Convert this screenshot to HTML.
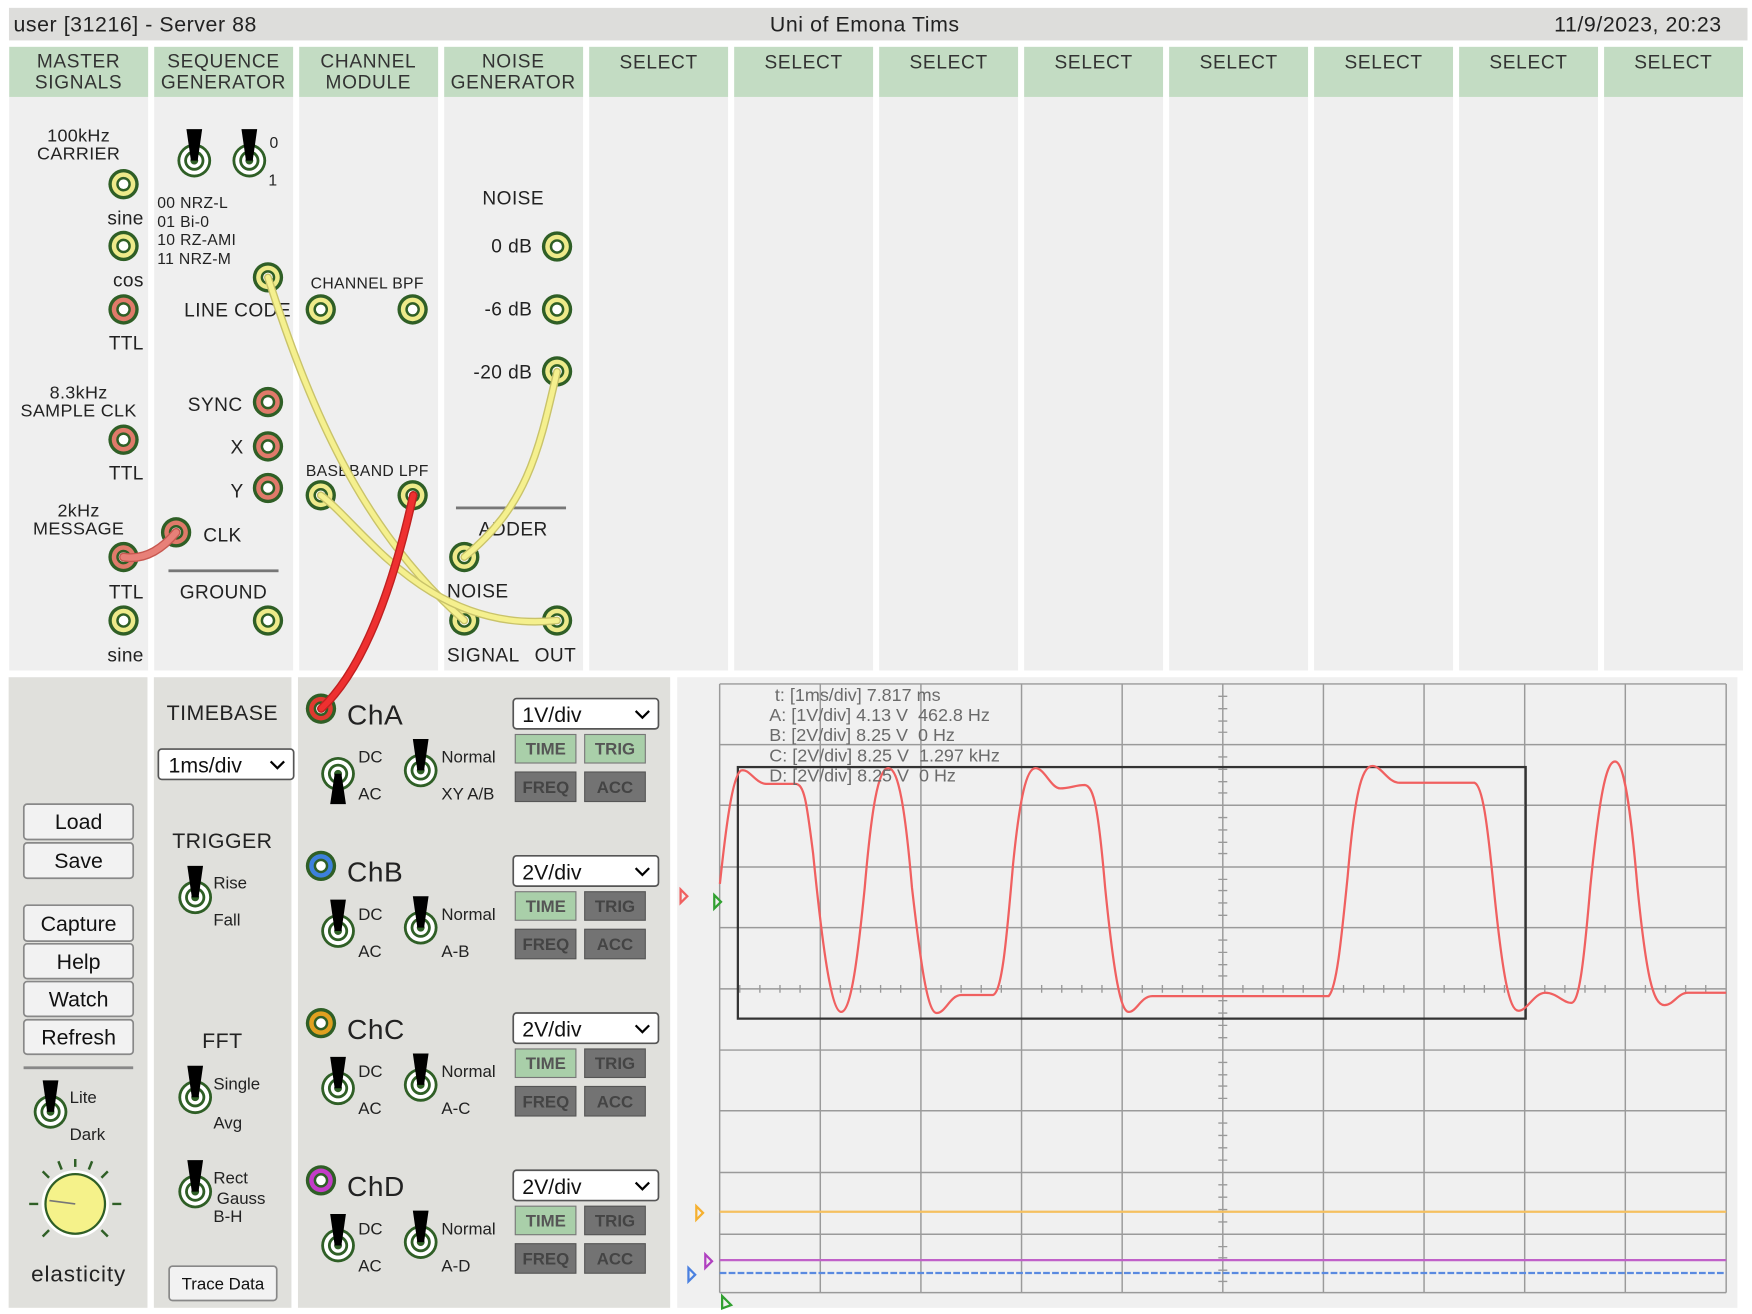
<!DOCTYPE html>
<html><head><meta charset="utf-8"><style>
html,body{margin:0;padding:0;background:#fff;}
svg{display:block;font-family:"Liberation Sans",sans-serif;}
</style></head><body>
<svg width="1752" height="1314" viewBox="0 0 1560 1170" xmlns="http://www.w3.org/2000/svg">
<defs>
<g id="jy"><circle r="13.5" fill="#2f5f26"/><circle r="10.5" fill="#eeea8a"/><circle r="6.5" fill="#2f5f26"/><circle r="4.3" fill="#fff"/></g>
<g id="jr"><circle r="13.5" fill="#2f5f26"/><circle r="10.5" fill="#e07a6a"/><circle r="6.5" fill="#2f5f26"/><circle r="4.3" fill="#fff"/></g>
<g id="tgr"><circle r="15" fill="#2f5f26"/><circle r="12.5" fill="#fff"/><circle r="9" fill="#2f5f26"/><circle r="6.5" fill="#fff"/><circle r="3.5" fill="#2f5f26"/></g>
<g id="tu"><use href="#tgr"/><polygon points="-7,-28 7,-28 3,0 -3,0" fill="#000"/></g>
<g id="td"><use href="#tgr"/><polygon points="-7,27 7,27 3,0 -3,0" fill="#000"/></g>
<path id="chev" d="M0,0 l6,6 l6,-6" fill="none" stroke="#000" stroke-width="2"/>
</defs>

<!-- title bar -->
<rect x="8" y="7" width="1548" height="29" fill="#dddddb"/>
<text x="12" y="22" font-size="19" dominant-baseline="central" fill="#222" letter-spacing="0.5">user [31216] - Server 88</text>
<text x="770" y="22" font-size="19" text-anchor="middle" dominant-baseline="central" fill="#222" letter-spacing="0.5">Uni of Emona Tims</text>
<text x="1533" y="22" font-size="19" text-anchor="end" dominant-baseline="central" fill="#222" letter-spacing="0.5">11/9/2023, 20:23</text>

<!-- module columns -->
<g fill="#efefef">
<rect x="8.2" y="86" width="123.7" height="511"/><rect x="137.3" y="86" width="123.7" height="511"/>
<rect x="266.4" y="86" width="123.7" height="511"/><rect x="395.5" y="86" width="123.7" height="511"/>
<rect x="524.6" y="86" width="123.7" height="511"/><rect x="653.7" y="86" width="123.7" height="511"/>
<rect x="782.8" y="86" width="123.7" height="511"/><rect x="911.9" y="86" width="123.7" height="511"/>
<rect x="1041" y="86" width="123.7" height="511"/><rect x="1170.1" y="86" width="123.7" height="511"/>
<rect x="1299.2" y="86" width="123.7" height="511"/><rect x="1428.3" y="86" width="123.7" height="511"/>
</g>
<g fill="#c3dcc3">
<rect x="8.2" y="41.7" width="123.7" height="44.6"/><rect x="137.3" y="41.7" width="123.7" height="44.6"/>
<rect x="266.4" y="41.7" width="123.7" height="44.6"/><rect x="395.5" y="41.7" width="123.7" height="44.6"/>
<rect x="524.6" y="41.7" width="123.7" height="44.6"/><rect x="653.7" y="41.7" width="123.7" height="44.6"/>
<rect x="782.8" y="41.7" width="123.7" height="44.6"/><rect x="911.9" y="41.7" width="123.7" height="44.6"/>
<rect x="1041" y="41.7" width="123.7" height="44.6"/><rect x="1170.1" y="41.7" width="123.7" height="44.6"/>
<rect x="1299.2" y="41.7" width="123.7" height="44.6"/><rect x="1428.3" y="41.7" width="123.7" height="44.6"/>
</g>
<g font-size="17" fill="#333" text-anchor="middle" letter-spacing="0.6">
<text x="70" y="60">MASTER</text><text x="70" y="79">SIGNALS</text>
<text x="199" y="60">SEQUENCE</text><text x="199" y="79">GENERATOR</text>
<text x="328" y="60">CHANNEL</text><text x="328" y="79">MODULE</text>
<text x="457" y="60">NOISE</text><text x="457" y="79">GENERATOR</text>
<text x="586.5" y="61">SELECT</text><text x="715.6" y="61">SELECT</text><text x="844.7" y="61">SELECT</text>
<text x="973.8" y="61">SELECT</text><text x="1103" y="61">SELECT</text><text x="1232" y="61">SELECT</text>
<text x="1361" y="61">SELECT</text><text x="1490" y="61">SELECT</text>
</g>

<!-- master signals -->
<g font-size="16" fill="#222" letter-spacing="0.3">
<text x="70" y="126" text-anchor="middle">100kHz</text><text x="70" y="142" text-anchor="middle">CARRIER</text>
<text x="128" y="200" text-anchor="end" font-size="17">sine</text>
<text x="128" y="255" text-anchor="end" font-size="17">cos</text>
<text x="128" y="311" text-anchor="end" font-size="17">TTL</text>
<text x="70" y="355" text-anchor="middle">8.3kHz</text><text x="70" y="371" text-anchor="middle">SAMPLE CLK</text>
<text x="128" y="427" text-anchor="end" font-size="17">TTL</text>
<text x="70" y="460" text-anchor="middle">2kHz</text><text x="70" y="476" text-anchor="middle">MESSAGE</text>
<text x="128" y="533" text-anchor="end" font-size="17">TTL</text>
<text x="128" y="589" text-anchor="end" font-size="17">sine</text>
</g>
<use href="#jy" x="110" y="164"/><use href="#jy" x="110" y="219"/><use href="#jr" x="110" y="275.5"/>
<use href="#jr" x="110" y="391.5"/><use href="#jr" x="110" y="496"/><use href="#jy" x="110" y="552.5"/>

<!-- sequence generator -->
<use href="#tu" x="173" y="143"/><use href="#tu" x="222" y="143"/>
<g font-size="14" fill="#222" letter-spacing="0.3">
<text x="240" y="132">0</text><text x="239" y="165">1</text>
<text x="140" y="185">00 NRZ-L</text><text x="140" y="202">01 Bi-0</text>
<text x="140" y="218">10 RZ-AMI</text><text x="140" y="235">11 NRZ-M</text>
</g>
<g font-size="17" fill="#222" letter-spacing="0.4">
<text x="164" y="282">LINE CODE</text>
<text x="216" y="366" text-anchor="end">SYNC</text>
<text x="217" y="404" text-anchor="end">X</text>
<text x="217" y="443" text-anchor="end">Y</text>
<text x="181" y="482">CLK</text>
<text x="199" y="533" text-anchor="middle">GROUND</text>
</g>
<rect x="150" y="507" width="98" height="2.5" fill="#777"/>
<use href="#jy" x="238.6" y="247"/><use href="#jr" x="238.6" y="358"/><use href="#jr" x="238.6" y="397.5"/>
<use href="#jr" x="238.6" y="434.5"/><use href="#jr" x="156.8" y="474"/><use href="#jy" x="238.6" y="552.5"/>

<!-- channel module -->
<g font-size="14" fill="#222" text-anchor="middle" letter-spacing="0.3">
<text x="327" y="257">CHANNEL BPF</text><text x="327" y="424">BASEBAND LPF</text>
</g>
<use href="#jy" x="285.6" y="275.5"/><use href="#jy" x="367.4" y="275.5"/>
<use href="#jy" x="285.6" y="441"/><use href="#jy" x="367.4" y="441"/>

<!-- noise generator -->
<g font-size="17" fill="#222" letter-spacing="0.4">
<text x="457" y="182" text-anchor="middle">NOISE</text>
<text x="474" y="225" text-anchor="end">0 dB</text>
<text x="474" y="281" text-anchor="end">-6 dB</text>
<text x="474" y="337" text-anchor="end">-20 dB</text>
<text x="457" y="477" text-anchor="middle">ADDER</text>
<text x="398" y="532">NOISE</text>
<text x="398" y="589">SIGNAL</text>
<text x="476" y="589">OUT</text>
</g>
<rect x="406" y="451" width="98" height="2.5" fill="#777"/>
<use href="#jy" x="496" y="219.5"/><use href="#jy" x="496" y="275.5"/><use href="#jy" x="496" y="330.7"/>
<use href="#jy" x="413.4" y="496"/><use href="#jy" x="413.4" y="552.5"/><use href="#jy" x="496" y="552.5"/>

<!-- lower panels -->
<rect x="7.7" y="603" width="123.6" height="561.5" fill="#e0e0dc"/>
<rect x="137" y="603" width="122.5" height="561.5" fill="#e0e0dc"/>
<rect x="265.3" y="603" width="331.4" height="561.5" fill="#e0e0dc"/>
<rect x="603" y="603" width="944" height="561.5" fill="#f0f0f0"/>

<!-- col1 buttons -->
<g fill="#f2f2f2" stroke="#888" stroke-width="1.5">
<rect x="21.2" y="716" width="97.4" height="31.5" rx="3"/><rect x="21.2" y="750.5" width="97.4" height="31.5" rx="3"/>
<rect x="21.2" y="806" width="97.4" height="32" rx="3"/><rect x="21.2" y="840.4" width="97.4" height="31" rx="3"/>
<rect x="21.2" y="874" width="97.4" height="31" rx="3"/><rect x="21.2" y="908" width="97.4" height="30.7" rx="3"/>
</g>
<g font-size="19" fill="#111" text-anchor="middle">
<text x="70" y="738">Load</text><text x="70" y="773">Save</text><text x="70" y="829">Capture</text>
<text x="70" y="863">Help</text><text x="70" y="896">Watch</text><text x="70" y="930">Refresh</text>
</g>
<rect x="21" y="949.5" width="97.6" height="2.5" fill="#888"/>
<use href="#tu" x="45" y="990"/>
<text x="62" y="982" font-size="15" fill="#222">Lite</text><text x="62" y="1015" font-size="15" fill="#222">Dark</text>
<g stroke="#2f5f26" stroke-width="2.2">
<line x1="67" y1="1072" x2="67" y2="1032"/><line x1="67" y1="1072" x2="96" y2="1043"/><line x1="67" y1="1072" x2="38" y2="1043"/>
<line x1="67" y1="1072" x2="108" y2="1072"/><line x1="67" y1="1072" x2="26" y2="1072"/>
<line x1="67" y1="1072" x2="96" y2="1101"/><line x1="67" y1="1072" x2="38" y2="1101"/>
<line x1="67" y1="1072" x2="82" y2="1034"/><line x1="67" y1="1072" x2="52" y2="1034"/>
</g>
<circle cx="67" cy="1072" r="33" fill="#e0e0dc"/>
<circle cx="67" cy="1072" r="30" fill="#fff"/>
<circle cx="67" cy="1072" r="27.5" fill="#2f5f26"/>
<circle cx="67" cy="1072" r="25.5" fill="#f5f28a"/>
<line x1="67" y1="1072" x2="44" y2="1069" stroke="#777" stroke-width="1.5"/>
<text x="70" y="1141" font-size="20" fill="#222" text-anchor="middle" letter-spacing="0.8">elasticity</text>

<!-- col2 -->
<g font-size="19" fill="#222" text-anchor="middle" letter-spacing="0.4">
<text x="198" y="641">TIMEBASE</text><text x="198" y="755">TRIGGER</text><text x="198" y="933">FFT</text>
</g>
<rect x="141" y="667" width="120.5" height="27" fill="#fff" stroke="#555" stroke-width="1.5" rx="3"/>
<text x="150" y="688" font-size="19" fill="#111">1ms/div</text>
<use href="#chev" x="241" y="678"/>
<use href="#tu" x="173.8" y="799"/>
<g font-size="15" fill="#222">
<text x="190" y="791">Rise</text><text x="190" y="824">Fall</text>
<text x="190" y="970">Single</text><text x="190" y="1005">Avg</text>
<text x="190" y="1054">Rect</text><text x="193" y="1072">Gauss</text><text x="190" y="1088">B-H</text>
</g>
<use href="#tu" x="173.8" y="977"/><use href="#tu" x="173.8" y="1061"/>
<rect x="150.6" y="1127.4" width="95.8" height="30.6" fill="#f2f2f2" stroke="#888" stroke-width="1.5" rx="3"/>
<text x="198.5" y="1148" font-size="15" fill="#111" text-anchor="middle">Trace Data</text>

<!-- col3 channels -->
<g id="chA">
<text x="309" y="645" font-size="25" fill="#222" letter-spacing="0.5">ChA</text>
<rect x="457" y="622" width="129.3" height="27" fill="#fff" stroke="#555" stroke-width="1.5" rx="3"/>
<text x="465" y="643" font-size="19" fill="#111">1V/div</text>
<use href="#chev" x="566" y="633"/>
<rect x="458.8" y="654" width="54" height="25.4" fill="#a9cfa9" stroke="#777"/>
<rect x="520.6" y="654" width="54" height="25.4" fill="#a9cfa9" stroke="#777"/>
<rect x="458.8" y="687.4" width="54" height="26.3" fill="#737373" stroke="#555"/>
<rect x="520.6" y="687.4" width="54" height="26.3" fill="#737373" stroke="#555"/>
<g font-size="15" font-weight="bold" fill="#555" text-anchor="middle"><text x="486" y="672">TIME</text><text x="547.6" y="672">TRIG</text><text x="486" y="706" fill="#444">FREQ</text><text x="547.6" y="706" fill="#444">ACC</text></g>
<use href="#td" x="301" y="689"/><use href="#tu" x="374.6" y="686"/>
<g font-size="15" fill="#222"><text x="319" y="679">DC</text><text x="319" y="712">AC</text><text x="393" y="679">Normal</text><text x="393" y="712">XY A/B</text></g>
</g>
<g>
<text x="309" y="785" font-size="25" fill="#222" letter-spacing="0.5">ChB</text>
<rect x="457" y="762" width="129.3" height="27" fill="#fff" stroke="#555" stroke-width="1.5" rx="3"/>
<text x="465" y="783" font-size="19" fill="#111">2V/div</text>
<use href="#chev" x="566" y="773"/>
<rect x="458.8" y="794" width="54" height="25.4" fill="#a9cfa9" stroke="#777"/>
<rect x="520.6" y="794" width="54" height="25.4" fill="#737373" stroke="#555"/>
<rect x="458.8" y="827.4" width="54" height="26.3" fill="#737373" stroke="#555"/>
<rect x="520.6" y="827.4" width="54" height="26.3" fill="#737373" stroke="#555"/>
<g font-size="15" font-weight="bold" fill="#555" text-anchor="middle"><text x="486" y="812">TIME</text><text x="547.6" y="812" fill="#444">TRIG</text><text x="486" y="846" fill="#444">FREQ</text><text x="547.6" y="846" fill="#444">ACC</text></g>
<use href="#tu" x="301" y="829"/><use href="#tu" x="374.6" y="826"/>
<g font-size="15" fill="#222"><text x="319" y="819">DC</text><text x="319" y="852">AC</text><text x="393" y="819">Normal</text><text x="393" y="852">A-B</text></g>
</g>
<g>
<text x="309" y="925" font-size="25" fill="#222" letter-spacing="0.5">ChC</text>
<rect x="457" y="902" width="129.3" height="27" fill="#fff" stroke="#555" stroke-width="1.5" rx="3"/>
<text x="465" y="923" font-size="19" fill="#111">2V/div</text>
<use href="#chev" x="566" y="913"/>
<rect x="458.8" y="934" width="54" height="25.4" fill="#a9cfa9" stroke="#777"/>
<rect x="520.6" y="934" width="54" height="25.4" fill="#737373" stroke="#555"/>
<rect x="458.8" y="967.4" width="54" height="26.3" fill="#737373" stroke="#555"/>
<rect x="520.6" y="967.4" width="54" height="26.3" fill="#737373" stroke="#555"/>
<g font-size="15" font-weight="bold" fill="#555" text-anchor="middle"><text x="486" y="952">TIME</text><text x="547.6" y="952" fill="#444">TRIG</text><text x="486" y="986" fill="#444">FREQ</text><text x="547.6" y="986" fill="#444">ACC</text></g>
<use href="#tu" x="301" y="969"/><use href="#tu" x="374.6" y="966"/>
<g font-size="15" fill="#222"><text x="319" y="959">DC</text><text x="319" y="992">AC</text><text x="393" y="959">Normal</text><text x="393" y="992">A-C</text></g>
</g>
<g>
<text x="309" y="1065" font-size="25" fill="#222" letter-spacing="0.5">ChD</text>
<rect x="457" y="1042" width="129.3" height="27" fill="#fff" stroke="#555" stroke-width="1.5" rx="3"/>
<text x="465" y="1063" font-size="19" fill="#111">2V/div</text>
<use href="#chev" x="566" y="1053"/>
<rect x="458.8" y="1074" width="54" height="25.4" fill="#a9cfa9" stroke="#777"/>
<rect x="520.6" y="1074" width="54" height="25.4" fill="#737373" stroke="#555"/>
<rect x="458.8" y="1107.4" width="54" height="26.3" fill="#737373" stroke="#555"/>
<rect x="520.6" y="1107.4" width="54" height="26.3" fill="#737373" stroke="#555"/>
<g font-size="15" font-weight="bold" fill="#555" text-anchor="middle"><text x="486" y="1092">TIME</text><text x="547.6" y="1092" fill="#444">TRIG</text><text x="486" y="1126" fill="#444">FREQ</text><text x="547.6" y="1126" fill="#444">ACC</text></g>
<use href="#tu" x="301" y="1109"/><use href="#tu" x="374.6" y="1106"/>
<g font-size="15" fill="#222"><text x="319" y="1099">DC</text><text x="319" y="1132">AC</text><text x="393" y="1099">Normal</text><text x="393" y="1132">A-D</text></g>
</g>
<!-- channel jacks -->
<g transform="translate(285.8,631)"><circle r="13.5" fill="#2f5f26"/><circle r="10.5" fill="#e03a30"/><circle r="6.5" fill="#2f5f26"/><circle r="4.3" fill="#fff"/></g>
<g transform="translate(285.8,771)"><circle r="13.5" fill="#2f5f26"/><circle r="10.5" fill="#3d80dd"/><circle r="6.5" fill="#2f5f26"/><circle r="4.3" fill="#fff"/></g>
<g transform="translate(285.8,911)"><circle r="13.5" fill="#2f5f26"/><circle r="10.5" fill="#e0a020"/><circle r="6.5" fill="#2f5f26"/><circle r="4.3" fill="#fff"/></g>
<g transform="translate(285.8,1051)"><circle r="13.5" fill="#2f5f26"/><circle r="10.5" fill="#c43cc8"/><circle r="6.5" fill="#2f5f26"/><circle r="4.3" fill="#fff"/></g>

<!-- scope grid -->
<g stroke="#9a9a9a" stroke-width="1.3">
<line x1="640.8" y1="609" x2="640.8" y2="1151"/><line x1="730.4" y1="609" x2="730.4" y2="1151"/>
<line x1="820" y1="609" x2="820" y2="1151"/><line x1="909.6" y1="609" x2="909.6" y2="1151"/>
<line x1="999.2" y1="609" x2="999.2" y2="1151"/><line x1="1088.8" y1="609" x2="1088.8" y2="1151"/>
<line x1="1178.4" y1="609" x2="1178.4" y2="1151"/><line x1="1268" y1="609" x2="1268" y2="1151"/>
<line x1="1357.6" y1="609" x2="1357.6" y2="1151"/><line x1="1447.2" y1="609" x2="1447.2" y2="1151"/>
<line x1="1537" y1="609" x2="1537" y2="1151"/>
<line x1="640.8" y1="609" x2="1537" y2="609"/><line x1="640.8" y1="663" x2="1537" y2="663"/>
<line x1="640.8" y1="717" x2="1537" y2="717"/><line x1="640.8" y1="772" x2="1537" y2="772"/>
<line x1="640.8" y1="826" x2="1537" y2="826"/><line x1="640.8" y1="880.5" x2="1537" y2="880.5"/>
<line x1="640.8" y1="935" x2="1537" y2="935"/><line x1="640.8" y1="989" x2="1537" y2="989"/>
<line x1="640.8" y1="1044" x2="1537" y2="1044"/><line x1="640.8" y1="1099" x2="1537" y2="1099"/>
<line x1="640.8" y1="1151" x2="1537" y2="1151"/>
</g>
<path d="M1084.8,620h8M1084.8,631h8M1084.8,642h8M1084.8,652h8M1084.8,674h8M1084.8,685h8M1084.8,696h8M1084.8,706h8M1084.8,728h8M1084.8,739h8M1084.8,750h8M1084.8,760h8M1084.8,783h8M1084.8,793h8M1084.8,804h8M1084.8,815h8M1084.8,837h8M1084.8,848h8M1084.8,859h8M1084.8,869h8M1084.8,891h8M1084.8,902h8M1084.8,913h8M1084.8,924h8M1084.8,946h8M1084.8,957h8M1084.8,967h8M1084.8,978h8M1084.8,1000h8M1084.8,1011h8M1084.8,1022h8M1084.8,1033h8M1084.8,1055h8M1084.8,1066h8M1084.8,1077h8M1084.8,1088h8M1084.8,1110h8M1084.8,1120h8M1084.8,1131h8M1084.8,1141h8
M658.7,877v7M676.6,877v7M694.5,877v7M712.4,877v7M748.3,877v7M766.2,877v7M784.1,877v7M802,877v7M837.9,877v7M855.8,877v7M873.7,877v7M891.6,877v7M927.5,877v7M945.4,877v7M963.3,877v7M981.2,877v7M1017.1,877v7M1035,877v7M1052.9,877v7M1070.8,877v7M1106.7,877v7M1124.6,877v7M1142.5,877v7M1160.4,877v7M1196.3,877v7M1214.2,877v7M1232.1,877v7M1250,877v7M1285.9,877v7M1303.8,877v7M1321.7,877v7M1339.6,877v7M1375.5,877v7M1393.4,877v7M1411.3,877v7M1429.2,877v7M1465.1,877v7M1483,877v7M1500.9,877v7M1518.8,877v7" stroke="#999" stroke-width="1.2"/>

<!-- scope traces -->
<line x1="640.8" y1="1079" x2="1537" y2="1079" stroke="#f5c060" stroke-width="2"/>
<line x1="640.8" y1="1122" x2="1537" y2="1122" stroke="#c060c8" stroke-width="2"/>
<line x1="640.8" y1="1133.5" x2="1537" y2="1133.5" stroke="#5a8ae0" stroke-width="2" stroke-dasharray="6,2"/>
<rect x="657" y="683" width="701.5" height="224" fill="none" stroke="#333" stroke-width="2"/>
<path d="M641,787 C646,740 652,690 660,686 C667,684 672,697 682,698 L708,698 C716,698 718,712 724,760 C732,840 740,901 749,901 C758,901 764,850 770,790 C776,720 782,684 791,684 C800,684 806,720 812,790 C820,860 826,902 834,902 C842,902 846,886 856,886 L884,886 C892,884 896,840 902,770 C908,710 914,684 922,684 C930,684 936,702 944,702 C952,702 958,699 966,699 C974,700 978,720 984,790 C992,870 998,901 1005,901 C1012,901 1016,887 1026,887 L1183,887 C1190,880 1194,840 1200,780 C1206,710 1212,682 1222,682 C1230,682 1236,697 1246,697 L1313,697 C1320,700 1324,730 1330,790 C1338,870 1344,900 1352,900 C1360,900 1366,884 1376,884 C1386,884 1392,893 1399,893 C1406,893 1410,860 1416,790 C1424,710 1430,678 1438,678 C1446,678 1452,720 1458,790 C1466,870 1472,895 1482,895 C1490,895 1494,884 1503,884 L1537,884" fill="none" stroke="#f06060" stroke-width="2"/>
<g font-size="16" fill="#6a6a6a">
<text x="690" y="624">t: [1ms/div] 7.817 ms</text>
<text x="685" y="642">A: [1V/div] 4.13 V&#160;&#160;462.8 Hz</text>
<text x="685" y="660">B: [2V/div] 8.25 V&#160;&#160;0 Hz</text>
<text x="685" y="678">C: [2V/div] 8.25 V&#160;&#160;1.297 kHz</text>
<text x="685" y="696">D: [2V/div] 8.25 V&#160;&#160;0 Hz</text>
</g>
<!-- markers -->
<polygon points="606,792 612,798 606,804" fill="none" stroke="#f06060" stroke-width="2"/>
<polygon points="636,797 642,803 636,809" fill="none" stroke="#30a030" stroke-width="2"/>
<polygon points="620,1074 626,1080 620,1086" fill="none" stroke="#f5b030" stroke-width="2"/>
<polygon points="628,1117 634,1123 628,1129" fill="none" stroke="#b040c0" stroke-width="2"/>
<polygon points="613,1129 619,1135 613,1141" fill="none" stroke="#4a80e0" stroke-width="2"/>
<polygon points="643,1154 651,1162 643,1165" fill="none" stroke="#30a030" stroke-width="2"/>

<!-- cables -->
<g fill="none" stroke-linecap="round">
<path d="M110,496 Q135,500 156.8,474" stroke="#c65850" stroke-width="8"/>
<path d="M110,496 Q135,500 156.8,474" stroke="#e88078" stroke-width="5.5"/>
<path d="M238.6,247 C275,360 320,470 413.4,552.5" stroke="#c9c36a" stroke-width="7"/>
<path d="M238.6,247 C275,360 320,470 413.4,552.5" stroke="#f5f08e" stroke-width="4.5"/>
<path d="M285.6,441 C320,465 380,565 496,552.5" stroke="#c9c36a" stroke-width="7"/>
<path d="M285.6,441 C320,465 380,565 496,552.5" stroke="#f5f08e" stroke-width="4.5"/>
<path d="M496,331 C480,400 470,450 413.4,496" stroke="#c9c36a" stroke-width="7"/>
<path d="M496,331 C480,400 470,450 413.4,496" stroke="#f5f08e" stroke-width="4.5"/>
<path d="M368,441 C355,500 330,590 286,631" stroke="#c02020" stroke-width="7.5"/>
<path d="M368,441 C355,500 330,590 286,631" stroke="#ee3030" stroke-width="5"/>
</g>
</svg>
</body></html>
